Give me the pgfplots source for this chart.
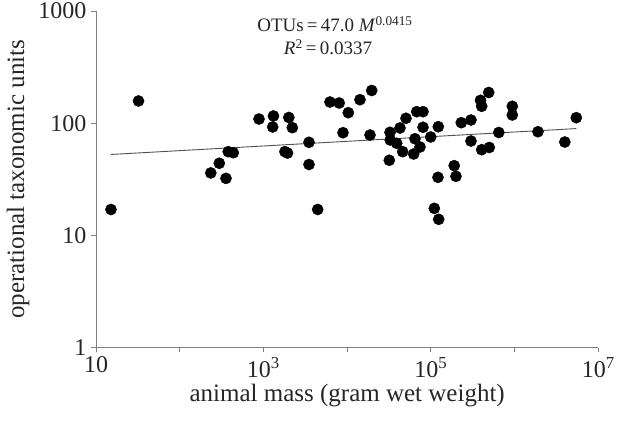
\documentclass[border=0pt]{standalone}
\usepackage{fontspec}
\setmainfont{Liberation Serif}
\usepackage{pgfplots}
\pgfplotsset{compat=1.18}
\definecolor{axgray}{RGB}{128,128,128}
\definecolor{fitgray}{RGB}{80,80,80}
\begin{document}
\begin{tikzpicture}
\path[use as bounding box] (-96pt,-73.5pt) rectangle (527pt,347.5pt);
\begin{axis}[
  at={(0pt,0pt)}, anchor=south west,
  scale only axis, width=502.3pt, height=336.5pt,
  xmode=log, ymode=log,
  xmin=10, xmax=1e7, ymin=1, ymax=1000,
  axis x line*=bottom, axis y line*=left,
  axis line style={axgray, line width=0.9pt, -},
  every tick/.style={axgray, line width=0.9pt},
  tick align=outside, major tick length=5pt,
  xminorticks=false, yminorticks=false,
  xtick={10,100,1000,10000,100000,1000000,10000000},
  xticklabels={10,,10\textsuperscript{3},,10\textsuperscript{5},,10\textsuperscript{7}},
  ytick={1,10,100,1000},
  yticklabels={1,10,100,1000},
  tick label style={font=\fontsize{24}{26}\selectfont, text=black!85},
  xticklabel style={yshift=-1pt},
  yticklabel style={xshift=-1pt},
  xlabel={animal mass (gram wet weight)},
  ylabel={operational taxonomic units},
  label style={font=\fontsize{25}{27}\selectfont, text=black!85},
  xlabel style={at={(rel axis cs:0.5,0)}, anchor=north, yshift=-33pt},
  ylabel style={at={(rel axis cs:0,0.5)}, anchor=south, yshift=63pt},
  clip=false,
]
\addplot[fitgray, line width=0.9pt] coordinates {(15.1,52.6) (5.46e6,89.5)};
\addplot[only marks, mark=*, mark size=5.6pt, mark options={fill=black, draw=black}] table[x=x, y=y] {
x y
15.1 17.0
32.2 157.7
235 36.0
297 43.9
357 32.2
380 55.7
436 54.5
885 108.9
1318 115.9
1290 92.5
2009 112.4
2213 91.2
1808 55.7
1938 54.2
3502 67.5
3502 42.8
4446 17.0
6237 154.4
8035 151.3
10320 124.0
14230 161.9
19640 195.6
8918 82.2
18750 78.4
31870 46.7
32500 82.9
32700 70.8
39080 66.2
42760 90.6
50450 110.5
67730 126.6
80530 126.6
80530 91.9
122700 93.0
64600 72.6
99550 75.3
74130 61.3
46060 55.7
62340 53.1
121600 32.9
190000 41.8
199500 33.6
109900 17.4
124000 13.9
230800 101.0
301300 106.7
301300 69.3
391600 159.9
404600 141.4
490600 187.7
404600 58.0
498700 60.7
647400 82.6
939000 141.4
939000 118.3
1901000 83.9
3981000 67.9
5458000 111.9
};
\end{axis}
\node[anchor=base, inner sep=0pt, font=\fontsize{19}{21}\selectfont, text=black!85] at (239pt,315.5pt) {OTUs\,=\,47.0 \textit{M}\textsuperscript{0.0415}};
\node[anchor=base, inner sep=0pt, font=\fontsize{19}{21}\selectfont, text=black!85] at (232pt,293pt) {\textit{R}\textsuperscript{2}\,=\,0.0337};
\end{tikzpicture}
\end{document}
